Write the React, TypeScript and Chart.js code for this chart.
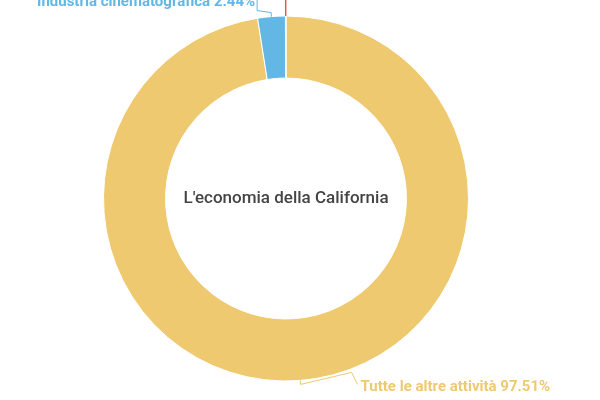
import React, { useEffect, useRef } from 'react';
import { Chart, registerables } from 'chart.js';

Chart.register(...registerables);

const categories = ['Tutte le altre attività', 'Industria cinematografica', 'Oscar'];
const shares = [97.51, 2.44, 0.05];
const colors = ['#EFC970', '#62B7E4', '#E9525B'];
const centerTitle = "L'economia della California";

// leader line layout per slice: radial stub, elbow offset and text offset (relative to stub end)
const labelLayout = [
  { stub: 4, elbow: [51, -12], text: [60, 3], align: 'left' },
  { stub: 4, elbow: [-14, -2], text: [-16, -10], align: 'right' },
  { stub: 15, elbow: [0, -10], text: [0, -20], align: 'center' },
];

const leaderPlugin = {
  id: 'leaderLabels',
  afterDatasetsDraw(chart: any) {
    const ctx = chart.ctx;
    const meta = chart.getDatasetMeta(0);
    ctx.save();
    meta.data.forEach((arc: any, i: number) => {
      const { x, y, startAngle, endAngle, outerRadius } = arc.getProps(
        ['x', 'y', 'startAngle', 'endAngle', 'outerRadius'],
        true
      );
      const mid = (startAngle + endAngle) / 2;
      const lay = labelLayout[i];
      const x0 = x + Math.cos(mid) * outerRadius;
      const y0 = y + Math.sin(mid) * outerRadius;
      const x1 = x + Math.cos(mid) * (outerRadius + lay.stub);
      const y1 = y + Math.sin(mid) * (outerRadius + lay.stub);
      const x2 = x1 + lay.elbow[0];
      const y2 = y1 + lay.elbow[1];
      const tx = x1 + lay.text[0];
      const ty = y1 + lay.text[1];
      ctx.strokeStyle = colors[i];
      ctx.lineWidth = i === 2 ? 1.5 : 1;
      ctx.beginPath();
      ctx.moveTo(x0, y0);
      ctx.lineTo(x1, y1);
      ctx.lineTo(x2, y2);
      if (i !== 2) ctx.lineTo(tx + (lay.align === 'left' ? -3 : 2), ty - 3);
      ctx.stroke();
      ctx.fillStyle = colors[i];
      ctx.font = 'bold 15px Roboto';
      ctx.textAlign = lay.align as CanvasTextAlign;
      ctx.textBaseline = 'middle';
      ctx.fillText(`${categories[i]} ${shares[i].toFixed(2)}%`, tx, ty);
    });
    ctx.fillStyle = '#444444';
    ctx.font = '500 17px Roboto';
    ctx.textAlign = 'center';
    ctx.textBaseline = 'middle';
    const a = meta.data[0];
    ctx.fillText(centerTitle, a.x, a.y);
    ctx.restore();
  },
};

const App: React.FC = () => {
  const chartRef = useRef<HTMLCanvasElement>(null);
  const chartInstance = useRef<Chart | null>(null);

  useEffect(() => {
    if (!chartRef.current) return;
    const ctx = chartRef.current.getContext('2d');
    if (!ctx) return;
    if (chartInstance.current) chartInstance.current.destroy();

    chartInstance.current = new Chart(ctx, {
      type: 'doughnut',
      data: {
        labels: categories,
        datasets: [
          {
            data: shares,
            backgroundColor: colors,
            borderColor: '#ffffff',
            borderWidth: 1,
          },
        ],
      },
      options: {
        animation: false,
        responsive: true,
        maintainAspectRatio: false,
        cutout: '66%',
        layout: { padding: { left: 103, right: 131, top: 15, bottom: 18 } },
        plugins: {
          legend: { display: false },
          tooltip: { enabled: false },
        },
      },
      plugins: [leaderPlugin],
    });

    return () => {
      if (chartInstance.current) {
        chartInstance.current.destroy();
        chartInstance.current = null;
      }
    };
  }, []);

  return (
    <div style={{ position: 'fixed', left: 0, top: 0, width: 600, height: 400, background: '#fff' }}>
      <canvas ref={chartRef}></canvas>
    </div>
  );
};

export default App;
